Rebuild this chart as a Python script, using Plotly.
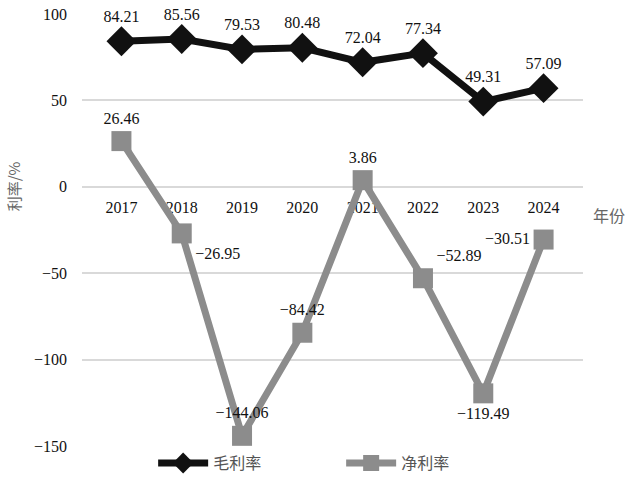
import plotly.graph_objects as go

# 年份 / 毛利率 / 净利率
years = ["2017", "2018", "2019", "2020", "2021", "2022", "2023", "2024"]
gross_margin = [84.21, 85.56, 79.53, 80.48, 72.04, 77.34, 49.31, 57.09]
net_margin = [26.46, -26.95, -144.06, -84.42, 3.86, -52.89, -119.49, -30.51]
y_ticks = [-150, -100, -50, 0, 50, 100]

serif = "Liberation Serif"
cjk = "Noto Sans CJK SC"

def fmt(v):
    return f"{v:.2f}".replace("-", "\u2212")

net_pos = ["top center", "bottom right", "top center", "top center",
           "top center", "top right", "bottom center", "middle left"]

fig = go.Figure()
fig.add_trace(go.Scatter(
    x=years, y=gross_margin, name="毛利率", mode="lines+markers+text",
    line=dict(color="#111111", width=7),
    marker=dict(symbol="diamond", size=23, color="#111111"),
    text=[fmt(v) for v in gross_margin], textposition="top center",
    textfont=dict(family=serif, size=16, color="#111111"),
    cliponaxis=False, hoverinfo="skip",
))
fig.add_trace(go.Scatter(
    x=years, y=net_margin, name="净利率", mode="lines+markers+text",
    line=dict(color="#8c8c8c", width=7),
    marker=dict(symbol="square", size=20, color="#8c8c8c"),
    text=[fmt(v) for v in net_margin], textposition=net_pos,
    textfont=dict(family=serif, size=16, color="#111111"),
    cliponaxis=False, hoverinfo="skip",
))

fig.add_annotation(x=1.0, xref="paper", xanchor="left", xshift=8,
                   y=0, yref="y", yanchor="top", yshift=-14,
                   text="年份", showarrow=False,
                   font=dict(family=cjk, size=16, color="#666666"))
fig.add_annotation(x=0, xref="paper", xanchor="right", xshift=-56,
                   y=0, yref="y", yanchor="middle", textangle=-90,
                   text="利率/%", showarrow=False,
                   font=dict(family=cjk, size=15, color="#666666"))

fig.update_layout(
    width=631, height=489,
    margin=dict(l=82, r=48, t=14, b=42),
    plot_bgcolor="white", paper_bgcolor="white",
    showlegend=True,
    legend=dict(orientation="h", x=0.142, xanchor="left",
                yref="container", y=0.053, yanchor="middle",
                font=dict(family=cjk, size=16, color="#555555"),
                entrywidth=123, itemwidth=50),
    xaxis=dict(anchor="free", position=0.6, showline=False, showgrid=False,
               automargin=False, ticklabelstandoff=9,
               ticks="", tickfont=dict(family=serif, size=16, color="#111111"),
               layer="below traces"),
    yaxis=dict(range=[-150, 100], tickvals=y_ticks, showgrid=True,
               automargin=False,
               gridcolor="#d9d9d9", gridwidth=2, zeroline=False, showline=False,
               ticks="", ticklabelstandoff=14,
               tickfont=dict(family=serif, size=16, color="#111111")),
)

fig.write_html("out.html", config={"displayModeBar": False},
               post_script="document.body.style.margin='0';document.body.style.overflow='hidden';")
